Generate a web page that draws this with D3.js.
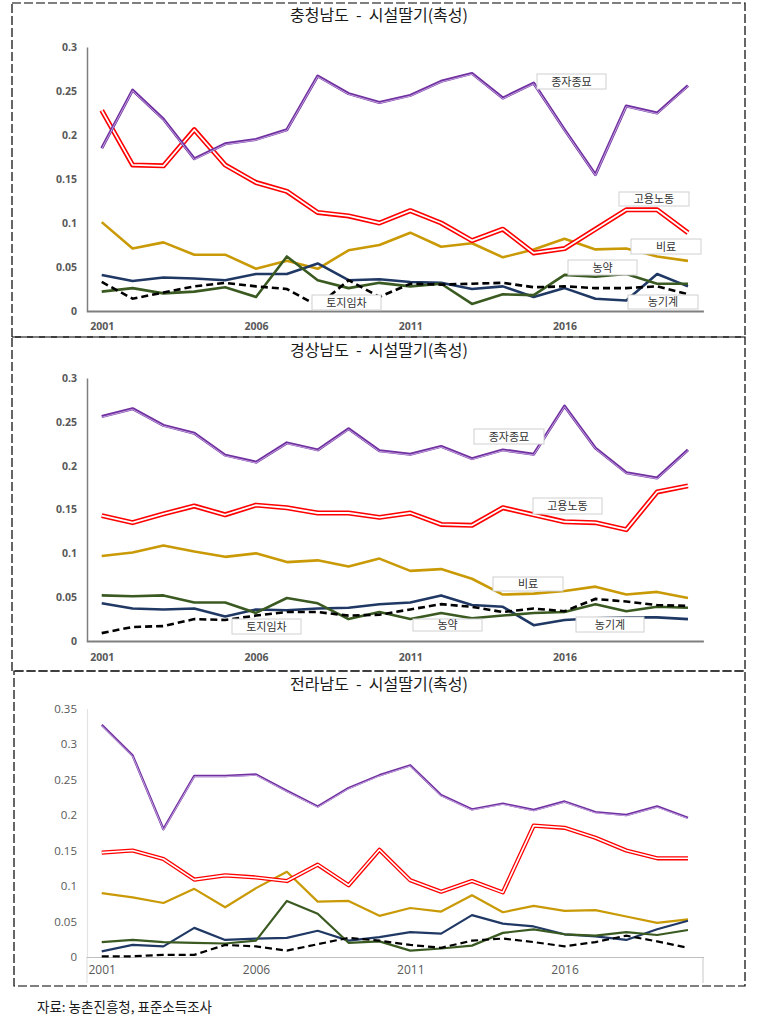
<!DOCTYPE html>
<html><head><meta charset="utf-8">
<script src="https://cdn.jsdelivr.net/npm/d3@7"></script>
<style>
html,body{margin:0;padding:0;background:#fff;}
svg{display:block;font-family:"Noto Sans CJK KR","Noto Sans",sans-serif;}
</style></head>
<body><svg id="c" width="761" height="1031"></svg>
<script>
// ---------- data ----------
const years = d3.range(2001, 2021).map(String);
const tickYears = ["2001", "2006", "2011", "2016"];
const seriesNames = ["종자종묘", "고용노동", "비료", "농약", "농기계", "토지임차"];
const regionTitles = ["충청남도  -  시설딸기(촉성)", "경상남도  -  시설딸기(촉성)", "전라남도  -  시설딸기(촉성)"];
const yTicks12 = [0, 0.05, 0.1, 0.15, 0.2, 0.25, 0.3];
const yTicks3 = [0, 0.05, 0.1, 0.15, 0.2, 0.25, 0.3, 0.35];

// 충청남도
const cnSeed  = [0.185,0.251,0.218,0.173,0.190,0.195,0.206,0.267,0.247,0.237,0.245,0.261,0.270,0.242,0.259,0.206,0.155,0.233,0.225,0.256];
const cnLabor = [0.228,0.166,0.165,0.206,0.166,0.146,0.136,0.112,0.108,0.100,0.114,0.100,0.080,0.093,0.066,0.071,0.093,0.115,0.115,0.089];
const cnFert  = [0.101,0.071,0.078,0.064,0.064,0.048,0.057,0.048,0.069,0.075,0.089,0.073,0.077,0.061,0.070,0.082,0.070,0.071,0.062,0.057];
const cnPest  = [0.022,0.026,0.020,0.022,0.027,0.016,0.062,0.035,0.026,0.032,0.028,0.031,0.008,0.019,0.018,0.041,0.039,0.042,0.031,0.031];
const cnMach  = [0.041,0.034,0.038,0.037,0.035,0.042,0.042,0.054,0.035,0.036,0.033,0.032,0.025,0.028,0.016,0.026,0.014,0.012,0.042,0.028];
const cnLand  = [0.033,0.014,0.021,0.028,0.032,0.028,0.025,0.006,0.035,0.016,0.031,0.030,0.031,0.032,0.027,0.028,0.026,0.026,0.028,0.019];
// 경상남도
const gnSeed  = [0.256,0.265,0.246,0.237,0.212,0.204,0.226,0.218,0.242,0.217,0.213,0.222,0.208,0.218,0.213,0.268,0.220,0.192,0.186,0.218];
const gnLabor = [0.143,0.135,0.145,0.154,0.144,0.155,0.152,0.146,0.146,0.141,0.146,0.133,0.132,0.152,0.144,0.136,0.135,0.127,0.170,0.177];
const gnFert  = [0.097,0.101,0.109,0.102,0.096,0.100,0.090,0.092,0.085,0.094,0.080,0.082,0.071,0.053,0.054,0.057,0.062,0.053,0.056,0.049];
const gnPest  = [0.052,0.051,0.052,0.044,0.044,0.032,0.049,0.043,0.025,0.033,0.025,0.032,0.026,0.029,0.032,0.033,0.042,0.034,0.039,0.038];
const gnMach  = [0.043,0.037,0.036,0.037,0.028,0.036,0.035,0.037,0.038,0.042,0.044,0.052,0.041,0.039,0.018,0.024,0.026,0.027,0.027,0.025];
const gnLand  = [0.009,0.016,0.017,0.025,0.024,0.029,0.033,0.033,0.029,0.030,0.036,0.042,0.039,0.033,0.037,0.034,0.048,0.045,0.041,0.040];
// 전라남도
const jnSeed  = [0.327,0.284,0.180,0.255,0.255,0.257,0.234,0.212,0.238,0.256,0.270,0.228,0.208,0.216,0.207,0.219,0.204,0.200,0.212,0.196];
const jnLabor = [0.147,0.150,0.138,0.109,0.115,0.112,0.107,0.130,0.101,0.151,0.108,0.092,0.107,0.091,0.185,0.182,0.168,0.150,0.139,0.139];
const jnFert  = [0.090,0.084,0.076,0.096,0.070,0.097,0.120,0.078,0.079,0.058,0.069,0.064,0.087,0.063,0.072,0.065,0.066,0.057,0.048,0.053];
const jnPest  = [0.021,0.024,0.021,0.020,0.019,0.023,0.079,0.061,0.020,0.022,0.009,0.012,0.016,0.034,0.039,0.032,0.030,0.035,0.031,0.038];
const jnMach  = [0.008,0.017,0.015,0.041,0.024,0.026,0.027,0.037,0.023,0.028,0.035,0.033,0.059,0.047,0.043,0.032,0.029,0.024,0.039,0.051];
const jnLand  = [0.001,0.001,0.003,0.003,0.017,0.015,0.009,0.018,0.027,0.023,0.017,0.013,0.023,0.026,0.021,0.015,0.021,0.030,0.022,0.013];

// ---------- layout / style ----------
const svg = d3.select("#c");
const colors = {
  "종자종묘": "#7030A0", "고용노동": "#FF0000", "비료": "#C99A06",
  "농약": "#3A5A22", "농기계": "#203864", "토지임차": "#000000"
};

const panels = [
  { title: regionTitles[0], data: [cnSeed, cnLabor, cnFert, cnPest, cnMach, cnLand],
    box: [12, 3, 745, 337], titleY: 21, yRange: [311, 47], yMax: 0.3, ticks: yTicks12,
    xLabelY: 330, style: 1,
    labels: [ ["종자종묘",537,74,69,15], ["고용노동",619,192,70,14], ["비료",631,239,70,15],
              ["농약",568,260,69,15], ["농기계",628,295,70,14], ["토지임차",312,295,69,15] ] },
  { title: regionTitles[1], data: [gnSeed, gnLabor, gnFert, gnPest, gnMach, gnLand],
    box: [12, 337, 745, 671], titleY: 356, yRange: [641, 378], yMax: 0.3, ticks: yTicks12,
    xLabelY: 661, style: 1,
    labels: [ ["종자종묘",474,429,70,15], ["고용노동",533,498,69,16], ["비료",493,577,70,14],
              ["농약",413,619,69,12], ["농기계",576,617,68,15], ["토지임차",232,619,69,15] ] },
  { title: regionTitles[2], data: [jnSeed, jnLabor, jnFert, jnPest, jnMach, jnLand],
    box: [14, 671, 745, 986], titleY: 690, yRange: [957, 708.5], yMax: 0.35, ticks: yTicks3,
    xLabelY: 974, style: 3, labels: [] }
];

panels.forEach(p => {
  const g = svg.append("g");
  const [bx0, by0, bx1, by1] = p.box;
  g.append("rect").attr("x", bx0).attr("y", by0).attr("width", bx1 - bx0).attr("height", by1 - by0)
    .attr("fill", "none").attr("stroke", "#000").attr("stroke-width", 1.2).attr("stroke-dasharray", "9,3");

  g.append("text").attr("x", 379).attr("y", p.titleY).attr("text-anchor", "middle")
    .attr("font-size", 16).attr("fill", "#1a1a1a").style("white-space", "pre").text(p.title);

  const x = d3.scalePoint().domain(years).range([86.3, 703.4]).padding(0.5);
  const y = d3.scaleLinear().domain([0, p.yMax]).range(p.yRange);

  const bold = p.style === 1;
  // y axis
  const yAxis = d3.axisLeft(y).tickValues(p.ticks).tickSize(0).tickPadding(10)
    .tickFormat(d => d === 0 ? "0" : String(+d.toFixed(2)));
  const ya = g.append("g").attr("transform", "translate(87,0)").call(yAxis);
  ya.select(".domain").attr("stroke", bold ? "#7f7f7f" : "#e3e3e3").attr("stroke-width", bold ? 1.5 : 1.2);
  ya.selectAll("text").attr("font-family", "'Open Sans','Noto Sans',sans-serif")
    .attr("font-size", bold ? 10.5 : 11.5).attr("font-weight", bold ? "bold" : "normal")
    .attr("fill", "#595959");
  if (!bold) {
    g.append("line").attr("x1", 87).attr("x2", 87).attr("y1", p.yRange[0]).attr("y2", 983)
      .attr("stroke", "#e3e3e3").attr("stroke-width", 1.2);
    g.append("line").attr("x1", 703).attr("x2", 703).attr("y1", p.yRange[0]).attr("y2", 983)
      .attr("stroke", "#c8c8c8").attr("stroke-width", 1);
  }
  // x axis
  const xAxis = d3.axisBottom(x).tickValues(tickYears).tickSize(0).tickPadding(0);
  const xa = g.append("g").attr("transform", `translate(0,${p.yRange[0]})`).call(xAxis);
  xa.select(".domain").attr("stroke", bold ? "#7f7f7f" : "#bfbfbf").attr("stroke-width", bold ? 1.8 : 1.2);
  xa.selectAll("text").attr("font-family", "'Open Sans','Noto Sans',sans-serif")
    .attr("font-size", bold ? 10.5 : 12).attr("font-weight", bold ? "bold" : "normal")
    .attr("fill", "#595959").attr("dy", null).attr("y", p.xLabelY - p.yRange[0]);

  const line = d3.line().x((d, i) => x(years[i])).y(d => y(d));
  const sw = bold ? 2.6 : 2.2;
  // draw order: bottom to top
  const order = [2, 4, 3, 5, 1, 0];
  order.forEach(si => {
    const name = seriesNames[si];
    const vals = p.data[si];
    const path = line(vals);
    if (name === "고용노동") {
      g.append("path").attr("d", path).attr("fill", "none").attr("stroke", colors[name])
        .attr("stroke-width", bold ? 5 : 4.2).attr("stroke-linejoin", "round");
      g.append("path").attr("d", path).attr("fill", "none").attr("stroke", "#fff")
        .attr("stroke-width", bold ? 1.8 : 1.6).attr("stroke-linejoin", "round");
    } else if (name === "종자종묘") {
      g.append("path").attr("d", path).attr("fill", "none").attr("stroke", colors[name])
        .attr("stroke-width", bold ? 3 : 2.4).attr("stroke-linejoin", "round");
      g.append("path").attr("d", path).attr("fill", "none").attr("stroke", "#cdb0e6")
        .attr("stroke-width", 0.9).attr("stroke-linejoin", "round").attr("transform", "translate(0,0.7)");
    } else if (name === "토지임차") {
      g.append("path").attr("d", path).attr("fill", "none").attr("stroke", colors[name])
        .attr("stroke-width", sw).attr("stroke-dasharray", "7,4");
    } else {
      g.append("path").attr("d", path).attr("fill", "none").attr("stroke", colors[name])
        .attr("stroke-width", sw).attr("stroke-linejoin", "round");
    }
  });

  // label boxes
  p.labels.forEach(([t, lx, ly, lw, lh]) => {
    g.append("rect").attr("x", lx).attr("y", ly).attr("width", lw).attr("height", lh)
      .attr("fill", "#fff").attr("stroke", "#d0d0d0").attr("stroke-width", 1);
    g.append("text").attr("x", lx + lw / 2).attr("y", ly + lh / 2 + 4).attr("text-anchor", "middle")
      .attr("font-size", 11).attr("fill", "#333").text(t);
  });
});

svg.append("text").attr("x", 37).attr("y", 1012).attr("font-size", 13.5).attr("fill", "#1a1a1a")
  .text("자료: 농촌진흥청, 표준소득조사");
</script></body></html>
